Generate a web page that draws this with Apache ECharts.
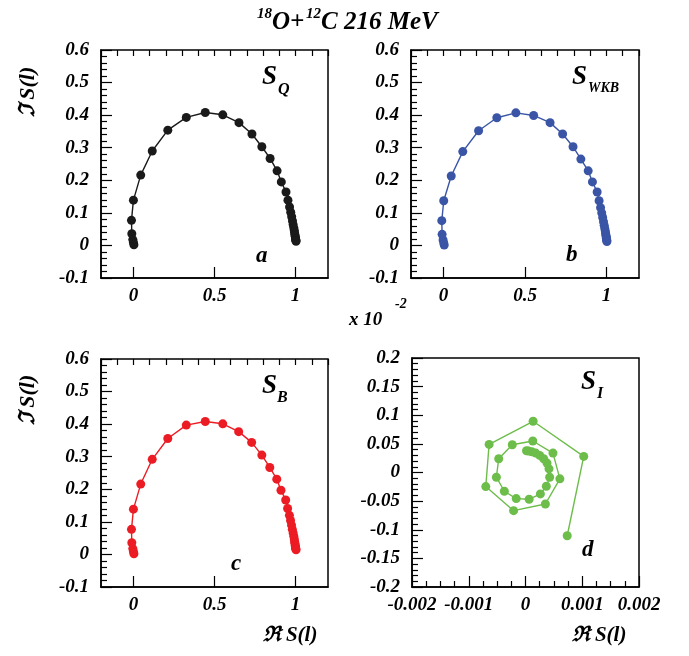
<!DOCTYPE html>
<html><head><meta charset="utf-8">
<script src="https://cdn.jsdelivr.net/npm/echarts@6/dist/echarts.min.js"></script>
<style>html,body{margin:0;padding:0;background:#fff}#c{width:689px;height:656px}</style>
</head><body><div id="c"></div>
<script>
// ---- data ----
const reQ = [0.003,0.0,-0.004,-0.01,-0.012,0.0,0.045,0.116,0.212,0.326,0.443,0.551,0.651,0.731,0.792,0.843,0.886,0.912,0.941,0.953,0.963,0.970,0.976,0.981,0.985,0.989,0.992,0.994,0.996,0.998,0.999,1.0,1.002,1.003];
const imQ = [0.002,0.009,0.018,0.036,0.077,0.139,0.216,0.290,0.354,0.393,0.408,0.401,0.377,0.342,0.303,0.267,0.229,0.195,0.164,0.139,0.118,0.102,0.088,0.075,0.064,0.054,0.046,0.039,0.033,0.028,0.023,0.019,0.016,0.013];
const reWKB = [0.004,0.001,-0.003,-0.009,-0.011,0.001,0.047,0.118,0.215,0.327,0.444,0.553,0.654,0.731,0.795,0.843,0.888,0.914,0.943,0.955,0.964,0.971,0.977,0.982,0.986,0.990,0.993,0.995,0.997,0.999,1.0,1.001,1.002,1.003];
const imWKB = [0.001,0.008,0.017,0.034,0.076,0.137,0.213,0.288,0.352,0.392,0.407,0.399,0.377,0.342,0.303,0.265,0.229,0.195,0.164,0.137,0.116,0.100,0.086,0.073,0.062,0.052,0.044,0.037,0.031,0.026,0.022,0.018,0.015,0.012];
const reB = [0.003,0.0,-0.004,-0.01,-0.012,0.0,0.045,0.116,0.212,0.326,0.443,0.551,0.649,0.729,0.792,0.841,0.884,0.910,0.939,0.951,0.962,0.969,0.975,0.980,0.985,0.989,0.992,0.994,0.996,0.998,0.999,1.0,1.002,1.003];
const imB = [0.002,0.009,0.018,0.036,0.077,0.139,0.216,0.292,0.356,0.397,0.408,0.401,0.377,0.344,0.305,0.267,0.231,0.197,0.167,0.141,0.120,0.104,0.090,0.077,0.066,0.056,0.047,0.040,0.034,0.028,0.024,0.020,0.017,0.014];
const reI = [0.000735,0.001026,0.000134,-0.000641,-0.000700,-0.000210,0.000350,0.000606,0.000484,0.000128,-0.000233,-0.000472,-0.000513,-0.000373,-0.000163,0.000064,0.000262,0.000367,0.000426,0.000414,0.000379,0.000320,0.000250,0.000180,0.000110,0.000053,0.000018];
const imI = [-0.1105,0.0281,0.0895,0.0491,-0.0246,-0.0667,-0.0550,-0.0111,0.0339,0.0550,0.0485,0.0240,-0.0082,-0.0327,-0.0456,-0.0468,-0.0374,-0.0240,-0.0082,0.0064,0.0164,0.0240,0.0298,0.0339,0.0363,0.0374,0.0380];
const xTicksS = [0, 0.5, 1];

const pairs = (a, b) => a.map((v, i) => [v, b[i]]);
const FONT = '"Liberation Serif", "DejaVu Serif", serif';
const lbl = {color:'#000', fontFamily:FONT, fontStyle:'italic', fontWeight:'bold', fontSize:19};

const grids = [
  {left:101, top:50, width:227, height:228},
  {left:411, top:50, width:228, height:228},
  {left:101, top:359, width:227, height:228},
  {left:412, top:358, width:227, height:229}
].map(g => Object.assign(g, {show:true, borderColor:'#000', borderWidth:1.5, backgroundColor:'transparent'}));

const xAxis = [], yAxis = [], series = [];
function sPanel(gi, re, im, color) {
  xAxis.push({type:'value', gridIndex:gi, min:-0.2, max:1.2, splitLine:{show:false},
    axisLine:{show:true, onZero:false, lineStyle:{color:'#000', width:1.5}},
    axisTick:{show:true, inside:true, length:11, customValues:xTicksS, lineStyle:{color:'#000', width:1.2}},
    axisLabel:Object.assign({margin:9, customValues:xTicksS}, lbl)});
  xAxis.push({type:'value', gridIndex:gi, min:-0.2, max:1.2, interval:0.1, splitLine:{show:false},
    axisLine:{show:false, onZero:false}, axisLabel:{show:false},
    axisTick:{show:true, inside:true, length:6, lineStyle:{color:'#000', width:1.2}}});
  yAxis.push({type:'value', gridIndex:gi, min:-0.1, max:0.6, interval:0.1, splitLine:{show:false},
    axisLine:{show:true, onZero:false, lineStyle:{color:'#000', width:1.5}},
    axisTick:{show:true, inside:true, length:11, lineStyle:{color:'#000', width:1.2}},
    minorTick:{show:true, splitNumber:5, length:6, lineStyle:{color:'#000', width:1.2}},
    axisLabel:Object.assign({margin:12, showMinLabel:true, showMaxLabel:true}, lbl)});
  series.push({type:'line', xAxisIndex:xAxis.length-2, yAxisIndex:yAxis.length-1,
    data:pairs(re, im), symbol:'circle', symbolSize:9, color:color,
    lineStyle:{color:color, width:1.4}, itemStyle:{color:color}, animation:false});
}
sPanel(0, reQ, imQ, '#1a1a1a');
sPanel(1, reWKB, imWKB, '#3a55a5');
sPanel(2, reB, imB, '#ec1c24');
xAxis.push({type:'value', gridIndex:3, min:-0.002, max:0.002, interval:0.001, splitLine:{show:false},
  axisLine:{show:true, onZero:false, lineStyle:{color:'#000', width:1.5}},
  axisTick:{show:true, inside:true, length:11, lineStyle:{color:'#000', width:1.2}},
  minorTick:{show:true, splitNumber:4, length:6, lineStyle:{color:'#000', width:1.2}},
  axisLabel:Object.assign({margin:9, showMinLabel:true, showMaxLabel:true, hideOverlap:false}, lbl)});
yAxis.push({type:'value', gridIndex:3, min:-0.2, max:0.2, interval:0.05, splitLine:{show:false},
  axisLine:{show:true, onZero:false, lineStyle:{color:'#000', width:1.5}},
  axisTick:{show:true, inside:true, length:11, lineStyle:{color:'#000', width:1.2}},
  minorTick:{show:true, splitNumber:5, length:6, lineStyle:{color:'#000', width:1.2}},
  axisLabel:Object.assign({margin:12, showMinLabel:true, showMaxLabel:true}, lbl)});
series.push({type:'line', xAxisIndex:xAxis.length-1, yAxisIndex:yAxis.length-1,
  data:pairs(reI, imI), symbol:'circle', symbolSize:9, color:'#6cbd4a',
  lineStyle:{color:'#6cbd4a', width:1.4}, itemStyle:{color:'#6cbd4a'}, animation:false});

function t(text, x, y, size, opts) {
  const o = opts || {};
  return {type:'text', x:x, y:y, rotation:o.rotation || 0, style:{text:text, fill:'#000',
    font:'italic bold ' + size + 'px ' + FONT, textAlign:o.align || 'left', textVerticalAlign:'middle'}};
}
const graphic = [
  t('18', 257, 14, 15), t('O+', 272, 23, 25), t('12', 306, 14, 15), t('C 216 MeV', 321, 23, 25),
  t('S', 262, 77, 27), t('Q', 278, 90, 16),
  t('S', 572, 77, 27), t('WKB', 588, 88, 14),
  t('S', 262, 386, 27), t('B', 277, 398, 16),
  t('S', 581, 382, 27), t('I', 597, 394, 16),
  t('a', 256, 256, 23), t('b', 566, 255, 23), t('c', 231, 564, 23), t('d', 582, 550, 23),
  t('x 10', 349, 320, 19), t('-2', 395, 304, 14),
  t('\u2111 S(l)', 28, 92, 22, {rotation:Math.PI/2, align:'center'}),
  t('\u2111 S(l)', 28, 400, 22, {rotation:Math.PI/2, align:'center'}),
  t('\u211C S(l)', 290, 636, 21, {align:'center'}),
  t('\u211C S(l)', 599, 636, 21, {align:'center'})
];

const chart = echarts.init(document.getElementById('c'));
chart.setOption({animation:false, grid:grids, xAxis:xAxis, yAxis:yAxis, series:series, graphic:graphic});
</script></body></html>
